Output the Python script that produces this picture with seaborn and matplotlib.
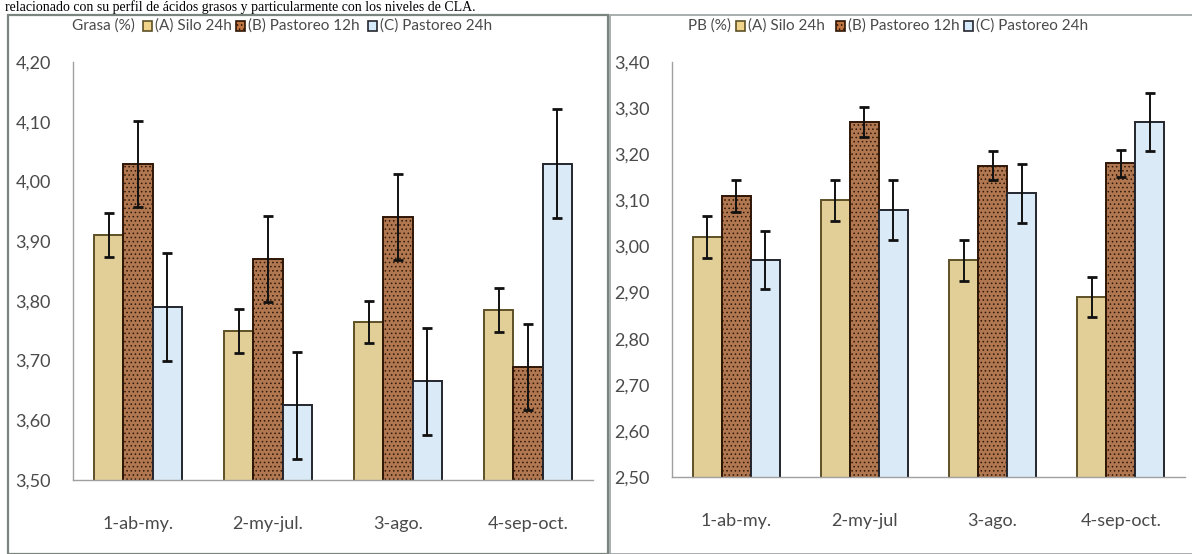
'''
Grasa / PB por periodo y tratamiento -> out.png
'''
import numpy as np
import pandas as pd
import matplotlib.pyplot as plt
import matplotlib.patches as mpatches
from matplotlib.ticker import FuncFormatter
import seaborn as sns

periodos_grasa = ['1-ab-my.', '2-my-jul.', '3-ago.', '4-sep-oct.']
periodos_pb = ['1-ab-my.', '2-my-jul', '3-ago.', '4-sep-oct.']
tratamientos = ['(A) Silo 24h', '(B) Pastoreo 12h', '(C) Pastoreo 24h']

# Grasa (%) : media y error por tratamiento (A, B, C)
grasa_A = [3.91, 3.75, 3.765, 3.785]
grasa_B = [4.03, 3.87, 3.94, 3.69]
grasa_C = [3.79, 3.625, 3.665, 4.03]
grasa_eA = [0.037, 0.037, 0.035, 0.037]
grasa_eB = [0.072, 0.072, 0.072, 0.072]
grasa_eC = [0.09, 0.09, 0.09, 0.092]

# PB (%)
pb_A = [3.02, 3.10, 2.97, 2.89]
pb_B = [3.11, 3.27, 3.175, 3.18]
pb_C = [2.97, 3.08, 3.115, 3.27]
pb_eA = [0.045, 0.045, 0.045, 0.043]
pb_eB = [0.035, 0.033, 0.031, 0.03]
pb_eC = [0.063, 0.065, 0.064, 0.063]

colores = ['#EFD48A', '#C07440', '#D5EAFB']
bordes = ['#5e5026', '#2e1606', '#24262e']

sns.set_style('white')
plt.rcParams['font.family'] = ['Lato', 'DejaVu Sans']
plt.rcParams['hatch.linewidth'] = 0.6
GRIS = '#4a4a4a'

fig = plt.figure(figsize=(11.92, 5.54), dpi=100)
W, H = 1192, 554

# marcos de los dos paneles
fig.patches.append(mpatches.Rectangle((8/W, 0), 600/W, 1 - 15/H, transform=fig.transFigure,
                                      fill=False, edgecolor='#7a8580', linewidth=1.6))
fig.patches.append(mpatches.Rectangle((610/W, 0), 590/W, 1 - 15/H, transform=fig.transFigure,
                                      fill=False, edgecolor='#9aa0a0', linewidth=1.2))

# linea de texto de arriba
fig.text(0.004, 1 - 0.5/H, 'relacionado con su perfil de ácidos grasos y particularmente con los niveles de CLA.',
         family='Liberation Serif', fontsize=10, va='top', ha='left', color='black')


def leyenda(titulo, tit_x, marc_x):
    # titulo del eje y leyenda en linea, arriba del grafico
    yc = 1 - 26 / H
    fig.text(tit_x / W, yc, titulo, fontsize=11, color=GRIS, ha='left', va='center')
    for k, mx in enumerate(marc_x):
        fig.patches.append(mpatches.Rectangle((mx / W, yc - 5 / H), 9 / W, 10 / H,
                                              transform=fig.transFigure,
                                              facecolor=colores[k], edgecolor=bordes[k],
                                              linewidth=1.2, hatch='....' if k == 1 else None))
        fig.text((mx + 12) / W, yc, tratamientos[k], fontsize=11, color=GRIS,
                 ha='left', va='center')


def panel(rect, periodos, A, B, C, eA, eB, eC, ymin, ymax):
    ax = fig.add_axes(rect)
    df = pd.DataFrame({
        'periodo': periodos * 3,
        'trat': [t for t in tratamientos for _ in periodos],
        'valor': A + B + C,
    })
    sns.barplot(data=df, x='periodo', y='valor', hue='trat', hue_order=tratamientos,
                palette=colores, width=0.68, errorbar=None, legend=False, ax=ax)
    errores = eA + eB + eC
    valores = A + B + C
    n = len(periodos)
    for i, p in enumerate(ax.patches[:3 * n]):
        k = i // n
        p.set_edgecolor(bordes[k])
        p.set_linewidth(1.4)
        if k == 1:
            p.set_hatch('....')
        x = p.get_x() + p.get_width() / 2
        ax.errorbar(x, valores[i], yerr=errores[i], color='#111111', elinewidth=1.4,
                    capsize=3.5, capthick=2, zorder=5)
    ax.set_ylim(ymin, ymax)
    ax.set_yticks(np.round(np.arange(ymin, ymax + 0.001, 0.1), 2))
    ax.yaxis.set_major_formatter(FuncFormatter(lambda v, pos: f'{v:.2f}'.replace('.', ',')))
    ax.set_xlim(-0.5, n - 0.5)
    ax.set_xticks(np.arange(-0.5, n, 1.0), minor=True)
    ax.tick_params(axis='x', which='major', length=0, pad=26, labelsize=13, labelcolor=GRIS)
    ax.tick_params(axis='x', which='minor', length=6, color='#999999', direction='out')
    ax.tick_params(axis='y', length=4, color='#999999', labelsize=13, labelcolor=GRIS, pad=12)
    ax.set_xlabel('')
    ax.set_ylabel('')
    sns.despine(ax=ax)
    for s in ['left', 'bottom']:
        ax.spines[s].set_color('#a0a0a0')
        ax.spines[s].set_linewidth(1.0)
    return ax


panel([73/W, 1 - 480/H, 520/W, 418/H], periodos_grasa, grasa_A, grasa_B, grasa_C,
      grasa_eA, grasa_eB, grasa_eC, 3.50, 4.20)
leyenda('Grasa (%)', 72, [143, 236, 368])
panel([672/W, 1 - 477/H, 513/W, 415/H], periodos_pb, pb_A, pb_B, pb_C,
      pb_eA, pb_eB, pb_eC, 2.50, 3.40)
leyenda('PB (%)', 688, [736, 836, 964])

plt.savefig('out.png', dpi=100)
plt.close('all')
